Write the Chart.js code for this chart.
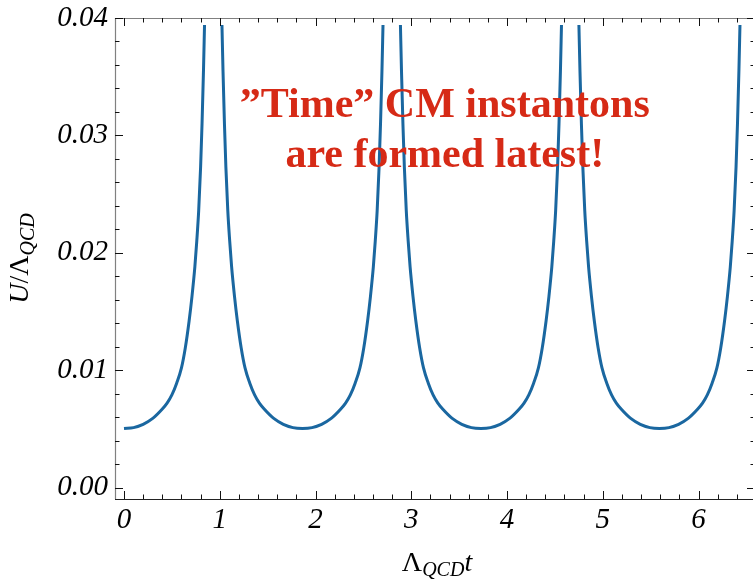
<!DOCTYPE html>
<html>
<head>
<meta charset="utf-8">
<script src="https://cdn.jsdelivr.net/npm/chart.js@4/dist/chart.umd.min.js"></script>
<style>
html,body{margin:0;padding:0;background:#fff;overflow:hidden;}
#wrap{position:relative;width:757px;height:580px;}
</style>
</head>
<body>
<div id="wrap"><canvas id="c" width="757" height="580"></canvas></div>
<script>
// ---- data ----
// first branch: minimum at t = 0 rising to the first spike
const seg1T = [0, 0.1, 0.2, 0.3, 0.4, 0.45, 0.5, 0.55, 0.6, 0.64, 0.68, 0.71, 0.74, 0.76, 0.78, 0.80, 0.815, 0.83, 0.841];
const seg1U = [0.00505, 0.00512, 0.0054, 0.0059, 0.0067, 0.0072, 0.0079, 0.0089, 0.0102, 0.0119, 0.0142, 0.0163, 0.0188, 0.0210, 0.0236, 0.0273, 0.0310, 0.0355, 0.0394];

// full wells between spikes (same well shape read in each period)
const wellU = [0.0394, 0.0355, 0.0310, 0.0273, 0.0236, 0.0210, 0.0188, 0.0163, 0.0142, 0.0119, 0.0102, 0.0089, 0.0079, 0.0072, 0.0067, 0.0059, 0.0054, 0.00512, 0.00505,
               0.00512, 0.0054, 0.0059, 0.0067, 0.0072, 0.0079, 0.0089, 0.0102, 0.0119, 0.0142, 0.0163, 0.0188, 0.0210, 0.0236, 0.0273, 0.0310, 0.0355, 0.0394];

const seg2T = [1.023, 1.034, 1.049, 1.064, 1.084, 1.104, 1.124, 1.154, 1.184, 1.224, 1.264, 1.314, 1.364, 1.414, 1.464, 1.564, 1.664, 1.764, 1.864,
               1.964, 2.064, 2.164, 2.264, 2.314, 2.364, 2.414, 2.464, 2.504, 2.544, 2.574, 2.604, 2.624, 2.644, 2.664, 2.679, 2.694, 2.705];
const seg3T = [2.887, 2.898, 2.913, 2.928, 2.948, 2.968, 2.988, 3.018, 3.048, 3.088, 3.128, 3.178, 3.228, 3.278, 3.328, 3.428, 3.528, 3.628, 3.728,
               3.828, 3.928, 4.028, 4.128, 4.178, 4.228, 4.278, 4.328, 4.368, 4.408, 4.438, 4.468, 4.488, 4.508, 4.528, 4.543, 4.558, 4.569];
const seg4T = [4.751, 4.762, 4.777, 4.792, 4.812, 4.832, 4.852, 4.882, 4.912, 4.952, 4.992, 5.042, 5.092, 5.142, 5.192, 5.292, 5.392, 5.492, 5.592,
               5.692, 5.792, 5.892, 5.992, 6.042, 6.092, 6.142, 6.192, 6.232, 6.272, 6.302, 6.332, 6.352, 6.372, 6.392, 6.407, 6.422, 6.433];

const xTickValues = [0, 1, 2, 3, 4, 5, 6];
const xTickLabels = ['0', '1', '2', '3', '4', '5', '6'];
const xMinorValues = [0.2,0.4,0.6,0.8,1.2,1.4,1.6,1.8,2.2,2.4,2.6,2.8,3.2,3.4,3.6,3.8,4.2,4.4,4.6,4.8,5.2,5.4,5.6,5.8,6.2,6.4];
const yTickValues = [0, 0.01, 0.02, 0.03, 0.04];
const yTickLabels = ['0.00', '0.01', '0.02', '0.03', '0.04'];
const yMinorValues = [0.002,0.004,0.006,0.008,0.012,0.014,0.016,0.018,0.022,0.024,0.026,0.028,0.032,0.034,0.036,0.038];

const noteLines = ['\u201DTime\u201D CM instantons', 'are formed latest!'];
const noteX = 3.35;
const noteY = [0.03155, 0.02728];

// ---- styles ----
const LINE_COLOR = '#1a67a0';
const NOTE_COLOR = '#d62a16';
const SERIF = "'Liberation Serif','Times New Roman',serif";

function seg(ts, us) {
  return {
    data: ts.map((t, i) => ({x: t, y: us[i]})),
    showLine: true,
    borderColor: LINE_COLOR,
    borderWidth: 3,
    pointRadius: 0,
    pointHoverRadius: 0,
    fill: false,
    cubicInterpolationMode: 'monotone'
  };
}

const framePlugin = {
  id: 'frameTicks',
  afterDatasetsDraw(chart) {
    const {ctx, chartArea: a, scales: {x, y}} = chart;
    ctx.save();
    // frame
    ctx.lineWidth = 1.2;
    ctx.strokeStyle = '#808080';
    ctx.beginPath();
    ctx.moveTo(a.left + 0.5, a.bottom);
    ctx.lineTo(a.left + 0.5, a.top + 0.5);
    ctx.lineTo(a.right + 0.5, a.top + 0.5);
    ctx.lineTo(a.right + 0.5, a.bottom);
    ctx.stroke();
    ctx.strokeStyle = '#222';
    ctx.beginPath();
    ctx.moveTo(a.left, a.bottom + 0.5);
    ctx.lineTo(a.right + 1, a.bottom + 0.5);
    ctx.stroke();
    // ticks
    ctx.lineWidth = 1;
    ctx.strokeStyle = '#111';
    ctx.beginPath();
    const xt = (v, len) => {
      const p = Math.round(x.getPixelForValue(v)) + 0.5;
      ctx.moveTo(p, a.bottom); ctx.lineTo(p, a.bottom - len);
      ctx.moveTo(p, a.top); ctx.lineTo(p, a.top + len);
    };
    const yt = (v, len) => {
      const p = Math.round(y.getPixelForValue(v)) + 0.5;
      ctx.moveTo(a.left, p); ctx.lineTo(a.left + len, p);
      ctx.moveTo(a.right, p); ctx.lineTo(a.right - len, p);
    };
    xTickValues.forEach(v => xt(v, 8));
    xMinorValues.forEach(v => xt(v, 4.5));
    yTickValues.forEach(v => yt(v, 8));
    yMinorValues.forEach(v => yt(v, 4.5));
    ctx.stroke();

    // annotation
    ctx.fillStyle = NOTE_COLOR;
    ctx.font = 'bold 42px ' + SERIF;
    ctx.textAlign = 'center';
    ctx.textBaseline = 'alphabetic';
    noteLines.forEach((s, i) => {
      ctx.fillText(s, x.getPixelForValue(noteX), y.getPixelForValue(noteY[i]));
    });

    // axis titles
    const drawTitle = (parts, cx, baseY) => {
      let total = 0;
      parts.forEach(p => { ctx.font = p.font; total += ctx.measureText(p.text).width; });
      let px = cx - total / 2;
      ctx.textAlign = 'left';
      parts.forEach(p => {
        ctx.font = p.font;
        ctx.fillText(p.text, px, baseY + p.dy);
        px += ctx.measureText(p.text).width;
      });
    };
    ctx.fillStyle = '#000';
    const big = '28px ' + SERIF, bigIt = 'italic 28px ' + SERIF, sub = 'italic 20px ' + SERIF;
    drawTitle([
      {text: '\u039B', font: big, dy: 0},
      {text: 'QCD', font: sub, dy: 5},
      {text: 't', font: bigIt, dy: 0}
    ], (a.left + a.right) / 2 + 2, 571);

    ctx.save();
    ctx.translate(28, (a.top + a.bottom) / 2);
    ctx.rotate(-Math.PI / 2);
    drawTitle([
      {text: 'U', font: bigIt, dy: 0},
      {text: '/\u039B', font: big, dy: 0},
      {text: 'QCD', font: sub, dy: 6}
    ], 0, 0);
    ctx.restore();
    ctx.restore();
  }
};

const tickFont = {family: SERIF, style: 'italic', size: 29};

new Chart(document.getElementById('c').getContext('2d'), {
  type: 'scatter',
  data: {
    datasets: [seg(seg1T, seg1U), seg(seg2T, wellU), seg(seg3T, wellU), seg(seg4T, wellU)]
  },
  options: {
    responsive: false,
    animation: false,
    devicePixelRatio: 1,
    layout: {padding: {top: 18, right: 2, bottom: 0, left: 0}},
    plugins: {legend: {display: false}, tooltip: {enabled: false}},
    events: [],
    scales: {
      x: {
        type: 'linear',
        min: -0.094,
        max: 6.59,
        afterBuildTicks: s => { s.ticks = xTickValues.map(v => ({value: v})); },
        afterFit: s => { s.height = 81; s.paddingLeft = 0; s.paddingRight = 0; },
        ticks: {
          callback: (v, i) => xTickLabels[i],
          font: tickFont, color: '#000', padding: 4,
          maxRotation: 0, autoSkip: false
        },
        grid: {display: false, drawTicks: false},
        border: {display: false}
      },
      y: {
        type: 'linear',
        min: -0.00096,
        max: 0.04,
        afterBuildTicks: s => { s.ticks = yTickValues.map(v => ({value: v})); },
        afterFit: s => { s.width = 115; s.paddingTop = 0; s.paddingBottom = 0; },
        ticks: {
          callback: (v, i) => yTickLabels[i],
          font: tickFont, color: '#000', padding: 7, autoSkip: false
        },
        grid: {display: false, drawTicks: false},
        border: {display: false}
      }
    }
  },
  plugins: [framePlugin]
});
</script>
</body>
</html>
